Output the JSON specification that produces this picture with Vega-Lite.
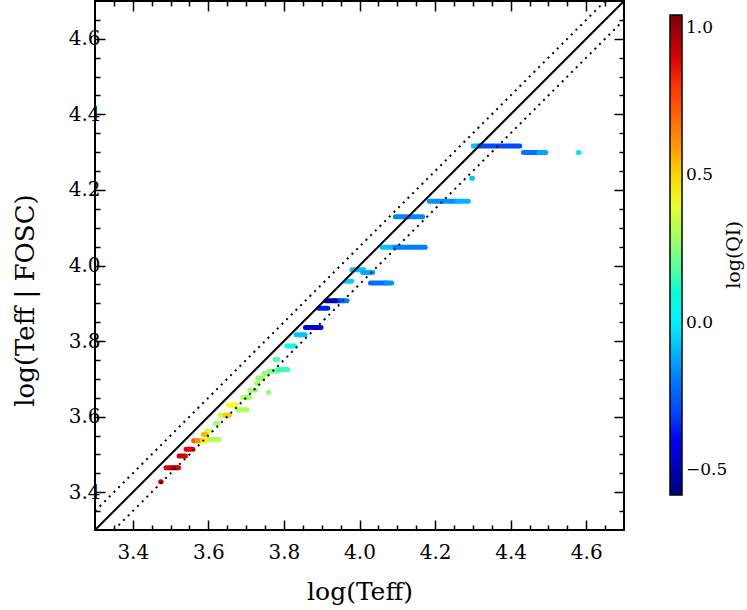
{
  "$schema": "https://vega.github.io/schema/vega-lite/v6.json",
  "width": 529,
  "height": 529,
  "autosize": {"type": "none"},
  "padding": {"left": 95, "top": 1, "right": 123, "bottom": 80},
  "background": "white",
  "config": {
    "view": {"stroke": "black", "strokeWidth": 2},
    "axis": {
      "domain": false, "grid": false, "tickColor": "black", "tickWidth": 1.5,
      "labelFont": "DejaVu Serif", "titleFont": "DejaVu Serif",
      "labelColor": "black", "titleColor": "black", "titleFontWeight": "normal"
    }
  },
  "resolve": {"axis": {"x": "independent", "y": "independent"}},
  "layer": [
    {
      "data": {"values": [
        {"x": 4.301, "x2": 4.318, "y": 4.316, "q": -0.08},
        {"x": 4.318, "x2": 4.424, "y": 4.316, "q": -0.30},
        {"x": 4.434, "x2": 4.475, "y": 4.299, "q": -0.20},
        {"x": 4.475, "x2": 4.493, "y": 4.299, "q": -0.12},
        {"x": 4.579, "x2": 4.581, "y": 4.299, "q": -0.02},
        {"x": 4.297, "x2": 4.299, "y": 4.231, "q": -0.08},
        {"x": 4.185, "x2": 4.260, "y": 4.170, "q": -0.15},
        {"x": 4.260, "x2": 4.288, "y": 4.170, "q": -0.10},
        {"x": 4.095, "x2": 4.167, "y": 4.129, "q": -0.17},
        {"x": 4.060, "x2": 4.094, "y": 4.048, "q": -0.08},
        {"x": 4.094, "x2": 4.174, "y": 4.048, "q": -0.18},
        {"x": 3.980, "x2": 4.011, "y": 3.989, "q": -0.08},
        {"x": 4.0085, "x2": 4.035, "y": 3.9815, "q": -0.12},
        {"x": 3.964, "x2": 3.979, "y": 3.9585, "q": -0.06},
        {"x": 4.029, "x2": 4.070, "y": 3.954, "q": -0.22},
        {"x": 4.070, "x2": 4.085, "y": 3.954, "q": -0.15},
        {"x": 3.936, "x2": 3.957, "y": 3.907, "q": -0.33},
        {"x": 3.957, "x2": 3.967, "y": 3.907, "q": -0.18},
        {"x": 3.911, "x2": 3.936, "y": 3.907, "q": -0.52},
        {"x": 3.892, "x2": 3.916, "y": 3.887, "q": -0.36},
        {"x": 3.857, "x2": 3.898, "y": 3.836, "q": -0.43},
        {"x": 3.832, "x2": 3.856, "y": 3.8165, "q": -0.08},
        {"x": 3.808, "x2": 3.828, "y": 3.787, "q": 0.08},
        {"x": 3.7765, "x2": 3.7836, "y": 3.751, "q": 0.17},
        {"x": 3.762, "x2": 3.784, "y": 3.720, "q": 0.22},
        {"x": 3.784, "x2": 3.810, "y": 3.725, "q": 0.15},
        {"x": 3.747, "x2": 3.757, "y": 3.714, "q": 0.25},
        {"x": 3.731, "x2": 3.744, "y": 3.7015, "q": 0.27},
        {"x": 3.728, "x2": 3.730, "y": 3.6875, "q": 0.27},
        {"x": 3.710, "x2": 3.725, "y": 3.670, "q": 0.28},
        {"x": 3.759, "x2": 3.760, "y": 3.664, "q": 0.26},
        {"x": 3.691, "x2": 3.709, "y": 3.6505, "q": 0.29},
        {"x": 3.653, "x2": 3.673, "y": 3.630, "q": 0.42},
        {"x": 3.678, "x2": 3.702, "y": 3.618, "q": 0.30},
        {"x": 3.631, "x2": 3.645, "y": 3.604, "q": 0.33},
        {"x": 3.645, "x2": 3.656, "y": 3.604, "q": 0.52},
        {"x": 3.619, "x2": 3.625, "y": 3.582, "q": 0.28},
        {"x": 3.596, "x2": 3.603, "y": 3.562, "q": 0.36},
        {"x": 3.587, "x2": 3.594, "y": 3.553, "q": 0.55},
        {"x": 3.598, "x2": 3.629, "y": 3.5395, "q": 0.32},
        {"x": 3.561, "x2": 3.570, "y": 3.536, "q": 0.74},
        {"x": 3.570, "x2": 3.585, "y": 3.536, "q": 0.61},
        {"x": 3.585, "x2": 3.594, "y": 3.536, "q": 0.45},
        {"x": 3.541, "x2": 3.559, "y": 3.514, "q": 0.89},
        {"x": 3.5225, "x2": 3.5394, "y": 3.496, "q": 0.91},
        {"x": 3.488, "x2": 3.505, "y": 3.4645, "q": 0.90},
        {"x": 3.505, "x2": 3.517, "y": 3.4645, "q": 0.98},
        {"x": 3.517, "x2": 3.521, "y": 3.4645, "q": 0.92},
        {"x": 3.4738, "x2": 3.475, "y": 3.4275, "q": 0.92}
      ]},
      "mark": {"type": "rule", "strokeWidth": 5, "strokeCap": "round"},
      "encoding": {
        "x": {"field": "x", "type": "quantitative",
          "scale": {"domain": [3.3, 4.7], "nice": false, "zero": false},
          "axis": {"orient": "bottom", "values": [3.4, 3.6, 3.8, 4.0, 4.2, 4.4, 4.6], "format": ".1f",
            "tickSize": -10, "labelPadding": 22, "labelFontSize": 20,
            "title": "log(Teff)", "titleFontSize": 25, "titlePadding": 17}},
        "x2": {"field": "x2"},
        "y": {"field": "y", "type": "quantitative",
          "scale": {"domain": [3.3, 4.7], "nice": false, "zero": false},
          "axis": {"orient": "left", "values": [3.4, 3.6, 3.8, 4.0, 4.2, 4.4, 4.6], "format": ".1f",
            "tickSize": -10, "labelPadding": 5, "labelFontSize": 20,
            "title": "log(Teff | FOSC)", "titleFontSize": 26, "titlePadding": 30, "titleY": 299}},
        "color": {"field": "q", "type": "quantitative",
          "scale": {"domain": [-0.585, -0.38125, -0.1775, 0.02625, 0.23, 0.43375, 0.6375, 0.84125, 1.045],
            "range": ["#00007f", "#0000ff", "#007fff", "#00ffff", "#7fff7f", "#ffff00", "#ff7f00", "#ff0000", "#7f0000"],
            "zero": false, "nice": false},
          "legend": {"orient": "none", "legendX": 630, "legendY": 14, "direction": "vertical",
            "gradientLength": 480, "gradientThickness": 12,
            "gradientStrokeColor": "black", "gradientStrokeWidth": 1.5,
            "values": [-0.5, 0, 0.5, 1.0], "format": ".1f",
            "labelFont": "DejaVu Serif", "labelFontSize": 17, "labelColor": "black", "labelOffset": 4,
            "title": "log(QI)", "titleOrient": "left", "titleAnchor": "middle",
            "titleFont": "DejaVu Serif", "titleFontSize": 19, "titleFontWeight": "normal", "titleColor": "black",
            "titlePadding": -75}}
      }
    },
    {
      "data": {"values": [{"a": 3.3, "b": 3.3, "a2": 4.7, "b2": 4.7}]},
      "mark": {"type": "rule", "color": "black", "strokeWidth": 2},
      "encoding": {
        "x": {"field": "a", "type": "quantitative",
          "scale": {"domain": [3.3, 4.7], "nice": false, "zero": false},
          "axis": {"orient": "bottom", "values": [3.35, 3.45, 3.5, 3.55, 3.65, 3.7, 3.75, 3.85, 3.9, 3.95, 4.05, 4.1, 4.15, 4.25, 4.3, 4.35, 4.45, 4.5, 4.55, 4.65],
            "labels": false, "tickSize": -5, "title": null}},
        "x2": {"field": "a2"},
        "y": {"field": "b", "type": "quantitative",
          "scale": {"domain": [3.3, 4.7], "nice": false, "zero": false},
          "axis": {"orient": "left", "values": [3.35, 3.45, 3.5, 3.55, 3.65, 3.7, 3.75, 3.85, 3.9, 3.95, 4.05, 4.1, 4.15, 4.25, 4.3, 4.35, 4.45, 4.5, 4.55, 4.65],
            "labels": false, "tickSize": -5, "title": null}},
        "y2": {"field": "b2"}
      }
    },
    {
      "data": {"values": [{"a": 3.3, "b": 3.35, "a2": 4.65, "b2": 4.7}]},
      "mark": {"type": "rule", "color": "black", "strokeWidth": 2, "strokeDash": [2, 4.6]},
      "encoding": {
        "x": {"field": "a", "type": "quantitative",
          "scale": {"domain": [3.3, 4.7], "nice": false, "zero": false},
          "axis": {"orient": "top", "values": [3.4, 3.6, 3.8, 4.0, 4.2, 4.4, 4.6],
            "labels": false, "tickSize": -10, "title": null}},
        "x2": {"field": "a2"},
        "y": {"field": "b", "type": "quantitative",
          "scale": {"domain": [3.3, 4.7], "nice": false, "zero": false},
          "axis": {"orient": "right", "values": [3.4, 3.6, 3.8, 4.0, 4.2, 4.4, 4.6],
            "labels": false, "tickSize": -10, "title": null}},
        "y2": {"field": "b2"}
      }
    },
    {
      "data": {"values": [{"a": 3.35, "b": 3.3, "a2": 4.7, "b2": 4.65}]},
      "mark": {"type": "rule", "color": "black", "strokeWidth": 2, "strokeDash": [2, 4.6]},
      "encoding": {
        "x": {"field": "a", "type": "quantitative",
          "scale": {"domain": [3.3, 4.7], "nice": false, "zero": false},
          "axis": {"orient": "top", "values": [3.35, 3.45, 3.5, 3.55, 3.65, 3.7, 3.75, 3.85, 3.9, 3.95, 4.05, 4.1, 4.15, 4.25, 4.3, 4.35, 4.45, 4.5, 4.55, 4.65],
            "labels": false, "tickSize": -5, "title": null}},
        "x2": {"field": "a2"},
        "y": {"field": "b", "type": "quantitative",
          "scale": {"domain": [3.3, 4.7], "nice": false, "zero": false},
          "axis": {"orient": "right", "values": [3.35, 3.45, 3.5, 3.55, 3.65, 3.7, 3.75, 3.85, 3.9, 3.95, 4.05, 4.1, 4.15, 4.25, 4.3, 4.35, 4.45, 4.5, 4.55, 4.65],
            "labels": false, "tickSize": -5, "title": null}},
        "y2": {"field": "b2"}
      }
    }
  ]
}
